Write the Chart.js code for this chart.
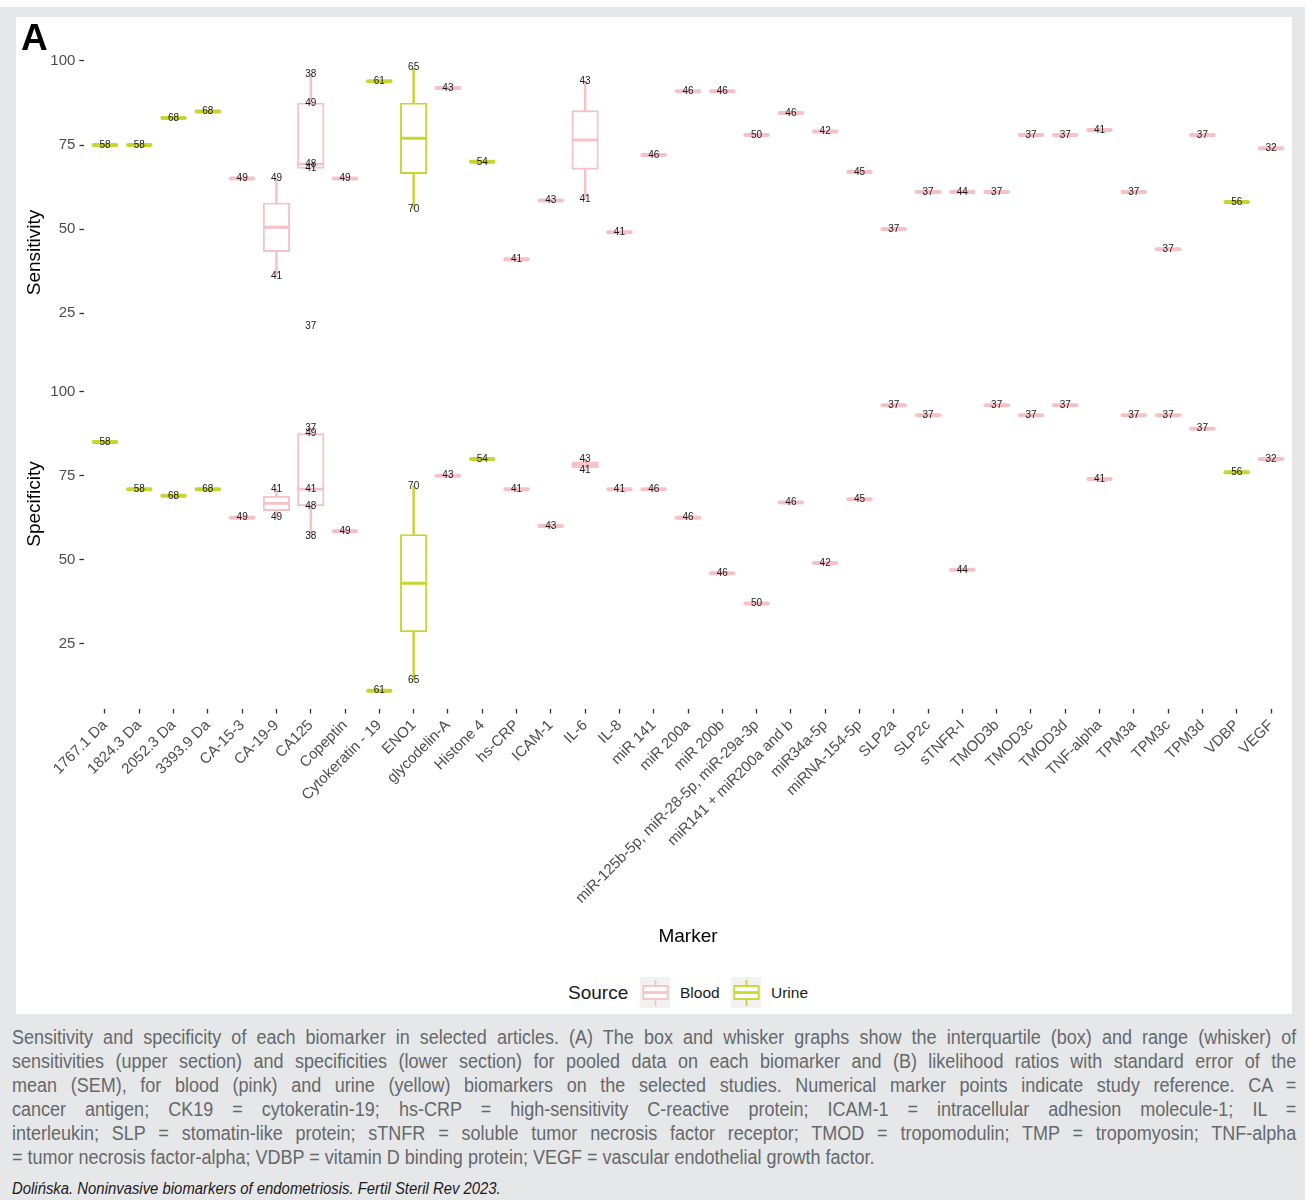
<!DOCTYPE html>
<html>
<head>
<meta charset="utf-8">
<title>Sensitivity and specificity of each biomarker</title>
<script src="https://cdn.jsdelivr.net/npm/chart.js@4.4.1/dist/chart.umd.min.js"></script>
<style>
  html, body { margin: 0; padding: 0; background: #fff; }
  body { width: 1305px; height: 1200px; position: relative; overflow: hidden;
         font-family: "Liberation Sans", Arial, Helvetica, sans-serif; }
  #frame { position: absolute; left: 0; top: 7px; width: 1305px; height: 1193px; background: #e6e7e8; }
  #panel { position: absolute; left: 16px; top: 17px; width: 1276px; height: 997px; background: #fff; }
  #chartBox { position: absolute; left: 0; top: 0; width: 1276px; height: 931px; }
  .leg { position: absolute; color: #1a1a1a; white-space: nowrap; line-height: 1; }
  .legTitle { font-size: 19px; left: 552px; top: 966px; }
  .legLabel { font-size: 15.5px; top: 968px; }
  .legKey { position: absolute; top: 960px; width: 30px; height: 31px; }
  #caption { position: absolute; left: 12px; top: 1025px; color: #65686b;
             font-family: "Liberation Sans", Arial, sans-serif; font-size: 20px; line-height: 24px; }
  #caption .ln { width: 1427px; height: 24px; transform: scaleX(0.9); transform-origin: 0 0;
                 text-align: justify; text-align-last: justify; white-space: nowrap; }
  #caption .ln.last { text-align-last: left; }
  #credit { position: absolute; left: 12px; top: 1179px; color: #1a1a1a; font-style: italic;
            font-family: "Liberation Sans", Arial, sans-serif; font-size: 16px; line-height: 20px;
            transform: scaleX(0.93); transform-origin: 0 0; white-space: nowrap; }
</style>
</head>
<body>
<div id="frame"></div>
<div id="panel">
  <div id="chartBox"><canvas id="chart"></canvas></div>
  <div class="leg legTitle">Source</div>
  <svg class="legKey" style="left:624px" viewBox="0 0 30 31">
    <rect x="0" y="0" width="30" height="31" fill="#f2f2f2"/>
    <line x1="15.5" y1="3" x2="15.5" y2="9" stroke="#f5c1c6" stroke-width="1.8"/>
    <line x1="15.5" y1="22" x2="15.5" y2="29" stroke="#f5c1c6" stroke-width="1.8"/>
    <rect x="3.3" y="9" width="24.4" height="13" fill="#fff" stroke="#f5c1c6" stroke-width="1.8"/>
    <line x1="3.3" y1="15.5" x2="27.7" y2="15.5" stroke="#f5c1c6" stroke-width="2.6"/>
  </svg>
  <div class="leg legLabel" style="left:664px">Blood</div>
  <svg class="legKey" style="left:715px" viewBox="0 0 30 31">
    <rect x="0" y="0" width="30" height="31" fill="#f2f2f2"/>
    <line x1="15.5" y1="3" x2="15.5" y2="9" stroke="#c6d52f" stroke-width="1.8"/>
    <line x1="15.5" y1="22" x2="15.5" y2="29" stroke="#c6d52f" stroke-width="1.8"/>
    <rect x="3.3" y="9" width="24.4" height="13" fill="#fff" stroke="#c6d52f" stroke-width="1.8"/>
    <line x1="3.3" y1="15.5" x2="27.7" y2="15.5" stroke="#c6d52f" stroke-width="2.6"/>
  </svg>
  <div class="leg legLabel" style="left:755px">Urine</div>
</div>
<div id="caption">
  <div class="ln">Sensitivity and specificity of each biomarker in selected articles. (A) The box and whisker graphs show the interquartile (box) and range (whisker) of</div>
  <div class="ln">sensitivities (upper section) and specificities (lower section) for pooled data on each biomarker and (B) likelihood ratios with standard error of the</div>
  <div class="ln">mean (SEM), for blood (pink) and urine (yellow) biomarkers on the selected studies. Numerical marker points indicate study reference. CA =</div>
  <div class="ln">cancer antigen; CK19 = cytokeratin-19; hs-CRP = high-sensitivity C-reactive protein; ICAM-1 = intracellular adhesion molecule-1; IL =</div>
  <div class="ln">interleukin; SLP = stomatin-like protein; sTNFR = soluble tumor necrosis factor receptor; TMOD = tropomodulin; TMP = tropomyosin; TNF-alpha</div>
  <div class="ln last">= tumor necrosis factor-alpha; VDBP = vitamin D binding protein; VEGF = vascular endothelial growth factor.</div>
</div>
<div id="credit">Dolińska. Noninvasive biomarkers of endometriosis. Fertil Steril Rev 2023.</div>

<script>
// Biomarkers on the x axis, in plotting order
const markers = [
  '1767.1 Da', '1824.3 Da', '2052.3 Da', '3393.9 Da', 'CA-15-3', 'CA-19-9', 'CA125',
  'Copeptin', 'Cytokeratin - 19', 'ENO1', 'glycodelin-A', 'Histone 4', 'hs-CRP', 'ICAM-1',
  'IL-6', 'IL-8', 'miR 141', 'miR 200a', 'miR 200b', 'miR-125b-5p, miR-28-5p, miR-29a-3p',
  'miR141 + miR200a and b', 'miR34a-5p', 'miRNA-154-5p', 'SLP2a', 'SLP2c', 'sTNFR-I',
  'TMOD3b', 'TMOD3c', 'TMOD3d', 'TNF-alpha', 'TPM3a', 'TPM3c', 'TPM3d', 'VDBP', 'VEGF'
];

// Sample source of each biomarker
const sources = [
  'Urine', 'Urine', 'Urine', 'Urine', 'Blood', 'Blood', 'Blood',
  'Blood', 'Urine', 'Urine', 'Blood', 'Urine', 'Blood', 'Blood',
  'Blood', 'Blood', 'Blood', 'Blood', 'Blood', 'Blood',
  'Blood', 'Blood', 'Blood', 'Blood', 'Blood', 'Blood',
  'Blood', 'Blood', 'Blood', 'Blood', 'Blood', 'Blood', 'Blood', 'Urine', 'Blood'
];

// Reported sensitivities (%) per biomarker, one entry per study
const sensValues = [
  [75], [75], [83], [85], [65], [65, 36], [96, 87.5, 69.3, 68, 21],
  [65], [94], [98, 56], [92], [70], [41], [58.5],
  [94, 59], [49], [72], [91], [91], [78],
  [84.5], [79], [67], [50], [61], [61],
  [61], [78], [78], [79.5], [61], [44], [78], [58], [74]
];
// Study reference numbers for each sensitivity
const sensRefs = [
  [58], [58], [68], [68], [49], [49, 41], [38, 49, 48, 41, 37],
  [49], [61], [65, 70], [43], [54], [41], [43],
  [43, 41], [41], [46], [46], [46], [50],
  [46], [42], [45], [37], [37], [44],
  [37], [37], [37], [41], [37], [37], [37], [56], [32]
];

// Reported specificities (%) per biomarker, one entry per study
const specValues = [
  [85], [71], [69], [71], [62.5], [71, 62.5], [89, 87.5, 71, 66, 57],
  [58.5], [11], [72, 14], [75], [80], [71], [60],
  [80, 76.5], [71], [71], [62.5], [46], [37],
  [67], [49], [68], [96], [93], [47],
  [96], [93], [96], [74], [93], [93], [89], [76], [80]
];
// Study reference numbers for each specificity
const specRefs = [
  [58], [58], [68], [68], [49], [41, 49], [37, 49, 41, 48, 38],
  [49], [61], [70, 65], [43], [54], [41], [43],
  [43, 41], [41], [46], [46], [46], [50],
  [46], [42], [45], [37], [37], [44],
  [37], [37], [37], [41], [37], [37], [37], [56], [32]
];

const yTicks = [25, 50, 75, 100];
const sourceNames = ['Blood', 'Urine'];
const sourceColors = { Blood: '#f5c1c6', Urine: '#c6d52f' };

const FONT = '"Liberation Sans", Arial, Helvetica, sans-serif';
const BOX_W = 26.5;

// R-style (type 7) quantile of a sorted list
function quantile(sorted, p) {
  const h = (sorted.length - 1) * p;
  const lo = Math.floor(h);
  const hi = Math.min(lo + 1, sorted.length - 1);
  return sorted[lo] + (h - lo) * (sorted[hi] - sorted[lo]);
}

// Tukey box statistics: quartiles, median and whisker ends within 1.5 IQR
function boxStats(values) {
  const s = [...values].sort((a, b) => a - b);
  const q1 = quantile(s, 0.25), med = quantile(s, 0.5), q3 = quantile(s, 0.75);
  const iqr = q3 - q1;
  const lo = s.find(v => v >= q1 - 1.5 * iqr);
  const hi = [...s].reverse().find(v => v <= q3 + 1.5 * iqr);
  return { q1, med, q3, lo, hi };
}

// Build the box, whisker, median and single-study datasets of one panel
function panelDatasets(values, axisId) {
  const sets = [];
  sourceNames.forEach(src => {
    const color = sourceColors[src];
    const boxes = [], whiskers = [], medians = [], singles = [];
    values.forEach((list, i) => {
      if (sources[i] !== src) return;
      if (list.length === 1) {
        singles.push({ x: i, y: list[0] });
        return;
      }
      const st = boxStats(list);
      boxes.push({ x: i, y: [st.q1, st.q3] });
      medians.push({ x: i, y: st.med });
      if (st.lo < st.q1) whiskers.push({ x: i, y: [st.lo, st.q1] });
      if (st.hi > st.q3) whiskers.push({ x: i, y: [st.q3, st.hi] });
    });
    sets.push({
      type: 'bar', label: src + ' whiskers', data: whiskers, yAxisID: axisId,
      grouped: false, barThickness: 1.8, backgroundColor: color, borderWidth: 0, order: 4
    });
    sets.push({
      type: 'bar', label: src + ' boxes', data: boxes, yAxisID: axisId,
      grouped: false, barThickness: BOX_W, backgroundColor: '#ffffff',
      borderColor: color, borderWidth: 1.9, borderSkipped: false, order: 3
    });
    sets.push({
      type: 'scatter', label: src + ' medians', data: medians, yAxisID: axisId,
      pointStyle: 'line', pointRadius: BOX_W / 2, pointBorderWidth: 2.9,
      borderColor: color, backgroundColor: color, showLine: false, order: 2
    });
    sets.push({
      type: 'scatter', label: src + ' single', data: singles, yAxisID: axisId,
      pointStyle: 'line', pointRadius: BOX_W / 2 - 2, pointBorderWidth: 4,
      borderColor: color, backgroundColor: color, showLine: false, order: 1,
      roundCaps: true
    });
  });
  return sets;
}

// Rounded ends for the single-study bars
const capStyle = {
  id: 'capStyle',
  beforeDatasetDraw(chart, args) {
    const ds = chart.data.datasets[args.index];
    chart.ctx.lineCap = ds.roundCaps ? 'round' : 'butt';
  },
  afterDatasetDraw(chart) {
    chart.ctx.lineCap = 'butt';
  }
};

// Study reference numbers written at each reported value
const refLabels = {
  id: 'refLabels',
  afterDatasetsDraw(chart) {
    const { ctx } = chart;
    const x = chart.scales.x;
    ctx.save();
    ctx.font = '10px ' + FONT;
    ctx.fillStyle = '#1a1a1a';
    ctx.textAlign = 'center';
    ctx.textBaseline = 'middle';
    [[sensValues, sensRefs, 'ySens'], [specValues, specRefs, 'ySpec']].forEach(([vals, refs, id]) => {
      const y = chart.scales[id];
      vals.forEach((list, i) => {
        list.forEach((v, k) => {
          ctx.fillText(String(refs[i][k]), x.getPixelForValue(i), y.getPixelForValue(v));
        });
      });
    });
    ctx.restore();
  }
};

// Panel tag and the two y-axis titles
const figureText = {
  id: 'figureText',
  afterDraw(chart) {
    const { ctx } = chart;
    ctx.save();
    ctx.fillStyle = '#000';
    ctx.font = 'bold 37px ' + FONT;
    ctx.textAlign = 'left';
    ctx.textBaseline = 'alphabetic';
    ctx.fillText('A', 5, 33);
    ctx.font = '19px ' + FONT;
    ctx.textAlign = 'center';
    ctx.textBaseline = 'middle';
    [['Sensitivity', 235.5], ['Specificity', 487]].forEach(([t, cy]) => {
      ctx.save();
      ctx.translate(18.5, cy);
      ctx.rotate(-Math.PI / 2);
      ctx.fillText(t, 0, 0);
      ctx.restore();
    });
    ctx.restore();
  }
};

function yAxis(weight, min, max) {
  return {
    type: 'linear', position: 'left', stack: 'panels', stackWeight: weight,
    min: min, max: max, bounds: 'data',
    afterBuildTicks: s => {
      s.ticks = yTicks.map(v => ({ value: v }));
      s.min = min;
      s.max = max;
    },
    afterFit: s => { s.width = 68.4; },
    ticks: { color: '#4d4d4d', padding: 4, font: { family: FONT, size: 15 } },
    grid: { drawOnChartArea: false, drawTicks: true, tickLength: 5, tickColor: '#333333', tickWidth: 1.3 },
    border: { display: false }
  };
}

const X_MIN = -0.6;
const X_MAX = markers.length - 0.4;

new Chart(document.getElementById('chart'), {
  type: 'scatter',
  data: {
    datasets: [...panelDatasets(sensValues, 'ySens'), ...panelDatasets(specValues, 'ySpec')]
  },
  options: {
    responsive: true,
    maintainAspectRatio: false,
    animation: false,
    events: [],
    layout: { autoPadding: false, padding: { top: 33, right: 0.4, left: 0, bottom: 0 } },
    plugins: { legend: { display: false }, tooltip: { enabled: false } },
    scales: {
      x: {
        type: 'linear', position: 'bottom', min: X_MIN, max: X_MAX, bounds: 'data',
        offset: false,
        afterBuildTicks: s => {
          s.ticks = markers.map((_, i) => ({ value: i }));
          s.min = X_MIN;
          s.max = X_MAX;
        },
        afterFit: s => { s.height = 239; s.paddingLeft = 0; s.paddingRight = 0; },
        ticks: {
          autoSkip: false, minRotation: 45, maxRotation: 45, padding: 3,
          color: '#4d4d4d', font: { family: FONT, size: 15 },
          callback: v => markers[v]
        },
        grid: { offset: false, drawOnChartArea: false, drawTicks: true, tickLength: 4.5, tickColor: '#333333', tickWidth: 1.3 },
        border: { display: false },
        title: { display: true, text: 'Marker', color: '#000', font: { family: FONT, size: 19 }, padding: 0 }
      },
      // left-hand stacked axes are laid out last-first, so the lower panel is listed first
      ySpec: yAxis(347, 5.5655, 108.8393),
      ySens: yAxis(312, 10.4167, 103.2738)
    }
  },
  plugins: [capStyle, refLabels, figureText]
});
</script>
</body>
</html>
